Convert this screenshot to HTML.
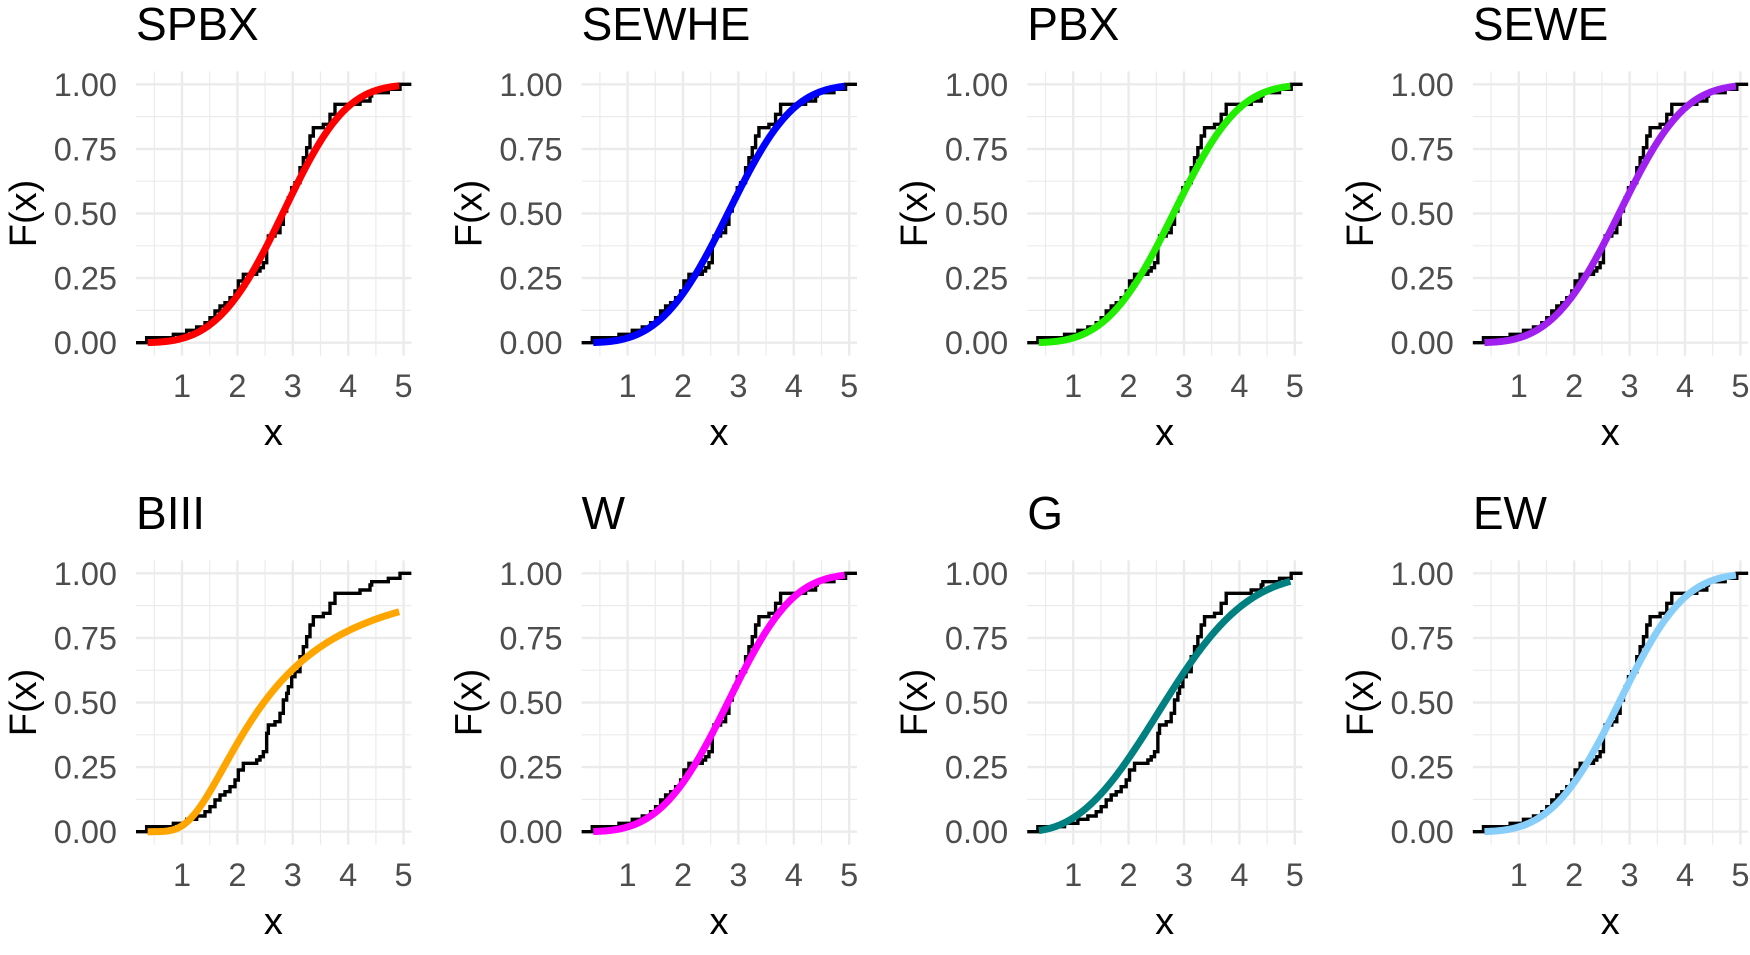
<!DOCTYPE html>
<html><head><meta charset="utf-8"><style>
html,body{margin:0;padding:0;background:#fff;}
svg{display:block;}
</style></head><body>
<svg id="s" width="1750" height="955" xmlns="http://www.w3.org/2000/svg" font-family="Liberation Sans, Arial, sans-serif"></svg>
<script>
const S=document.getElementById('s');
let h='';
const zs=[[80,800],[160,790],[200,778],[230,768],[255,755],[270,740],[285,720],[300,705],[315,695],[330,680],[345,660],[355,630],[370,610],[410,600],[420,590],[430,575],[440,520],[445,495],[465,485],[480,460],[490,420],[500,400],[505,380],[515,350],[525,335],[540,290],[550,260],[560,230],[570,195],[580,170],[610,160],[630,130],[645,100],[720,90],[750,75],[755,65],[805,55],[840,40]];
const steps=zs.map(([zx,zy])=>[(120+zx/3-126.6)/55.4,(271.7-zy/3)/258.4]);
const wb=(s,k)=>x=>1-Math.exp(-Math.pow(x/s,k));
const burr=(c,k)=>x=>Math.pow(1+Math.pow(x,-c),-k);
const panels=[
 ["SPBX","#ff0000",wb(3.12,3.6)],
 ["SEWHE","#0000ff",wb(3.12,3.5)],
 ["PBX","#22ee00",wb(3.12,3.5)],
 ["SEWE","#a020f0",wb(3.12,3.5)],
 ["BIII","#ffa500",burr(2.2,5.44)],
 ["W","#ff00ff",wb(3.12,3.5)],
 ["G","#008080",wb(3.05,2.6)],
 ["EW","#87cefa",wb(3.12,3.5)]
];
panels.forEach((p,i)=>{
 const col=i%4,row=Math.floor(i/4);
 const X=v=>126.6+55.4*v+col*445.6;
 const Y=v=>342.7-258.4*v+row*489;
 const x0=X(0.17),x1=X(5.14),yt=Y(1.05),yb=Y(-0.05);
 for(let v=0.5;v<5.2;v+=1) h+=`<line x1="${X(v)}" x2="${X(v)}" y1="${yt}" y2="${yb}" stroke="#ebebeb" stroke-width="1.2"/>`;
 for(let v=0.125;v<1.1;v+=0.25) h+=`<line x1="${x0}" x2="${x1}" y1="${Y(v)}" y2="${Y(v)}" stroke="#ebebeb" stroke-width="1.2"/>`;
 for(let v=1;v<=5;v++) h+=`<line x1="${X(v)}" x2="${X(v)}" y1="${yt}" y2="${yb}" stroke="#ebebeb" stroke-width="2.4"/>`;
 for(let v=0;v<=1.001;v+=0.25) h+=`<line x1="${x0}" x2="${x1}" y1="${Y(v)}" y2="${Y(v)}" stroke="#ebebeb" stroke-width="2.4"/>`;
 let d=`M${x0},${Y(0)}`;
 steps.forEach(([sx,sy])=>{d+=`H${X(sx).toFixed(2)}V${Y(sy).toFixed(2)}`;});
 d+=`H${x1}`;
 h+=`<path d="${d}" fill="none" stroke="#000" stroke-width="3.4"/>`;
 let c='';
 for(let k=0;k<=200;k++){const v=0.38+(4.92-0.38)*k/200;c+=(k?'L':'M')+X(v).toFixed(2)+','+Y(p[2](v)).toFixed(2);}
 h+=`<path d="${c}" fill="none" stroke="${p[1]}" stroke-width="7"/>`;
 h+=`<text x="${X(0.17)}" y="${40+row*489}" font-size="46">${p[0]}</text>`;
 ["0.00","0.25","0.50","0.75","1.00"].forEach((t,j)=>{h+=`<text x="${117+col*445.6}" y="${Y(j*0.25)+11.5}" font-size="32.5" fill="#4d4d4d" text-anchor="end">${t}</text>`;});
 for(let v=1;v<=5;v++) h+=`<text x="${X(v)}" y="${397+row*489}" font-size="32.5" fill="#4d4d4d" text-anchor="middle">${v}</text>`;
 h+=`<text x="${X(2.65)}" y="${445+row*489}" font-size="38" text-anchor="middle">x</text>`;
 const cx=36+col*445.6,cyy=Y(0.5);
 h+=`<text x="${cx}" y="${cyy}" font-size="38" text-anchor="middle" transform="rotate(-90 ${cx} ${cyy})">F(x)</text>`;
});
S.innerHTML=h;
</script>
</body></html>
